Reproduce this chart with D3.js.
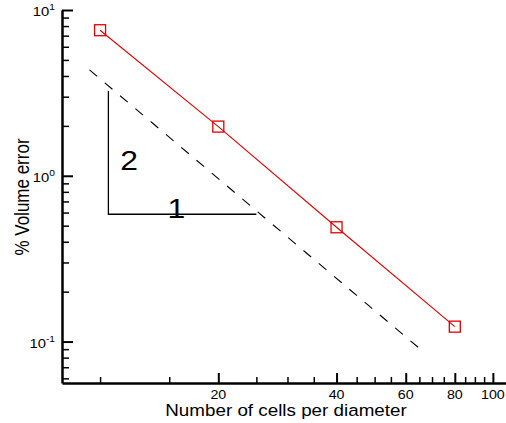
<!DOCTYPE html>
<html>
<head>
<meta charset="utf-8">
<script src="https://cdn.jsdelivr.net/npm/d3@7/dist/d3.min.js"></script>
<style>
  html, body { margin: 0; padding: 0; background: #fff; }
  svg { display: block; }
  text { font-family: "Liberation Sans", Arial, Helvetica, sans-serif; fill: #000; }
</style>
</head>
<body>
<div id="chart"></div>
<script>
// grid resolution vs volume error
const cells = [10, 20, 40, 80];
const volumeError = [7.55, 1.98, 0.489, 0.123];

// second-order reference line (dashed)
const refX = [9.4, 65];
const refY = [4.35, 0.091];

// slope triangle legs
const triX = [10.5, 25];
const triY = [0.586, 3.25];

const xMajorTicks = [20, 40, 60, 80, 100];
const xMinorTicks = [10, 15, 25, 30, 35, 45, 50, 55, 65, 70, 75, 85, 90, 95];
const yMajorTicks = [0.1, 1, 10];
const yMajorExp = ["-1", "0", "1"];
const yMinorTicks = [0.06, 0.07, 0.08, 0.09, 0.2, 0.3, 0.4, 0.5, 0.6, 0.7, 0.8, 0.9,
                     2, 3, 4, 5, 6, 7, 8, 9];

const WIDTH = 506;
const HEIGHT = 423;
const LEFT = 62;
const RIGHT = 506;
const TOP = 10;
const BOTTOM = 383;
const STRETCH = 1.14; // glyphs are a bit wider than tall

const svg = d3.select("#chart")
    .append("svg")
    .attr("width", WIDTH)
    .attr("height", HEIGHT);

const x = d3.scaleLog()
    .domain([8, 108])
    .range([LEFT, RIGHT]);

const y = d3.scaleLog()
    .domain([Math.pow(10, -1.25), 10])
    .range([BOTTOM, TOP]);

// helper for horizontally stretched text
function stretchedText(px, py, size, str, anchor) {
    return svg.append("text")
        .attr("transform", `translate(${px},${py}) scale(${STRETCH},1)`)
        .attr("font-size", size)
        .attr("text-anchor", anchor || "middle")
        .text(str);
}

// X axis: minor then major ticks, pointing inward
const xMinor = svg.append("g")
    .attr("transform", `translate(0,${BOTTOM})`)
    .call(d3.axisBottom(x).tickValues(xMinorTicks).tickSize(-6).tickSizeOuter(0).tickFormat(""));
xMinor.select(".domain").remove();
xMinor.selectAll(".tick line").attr("stroke-width", 1.5);

const xMajor = svg.append("g")
    .attr("transform", `translate(0,${BOTTOM})`)
    .call(d3.axisBottom(x).tickValues(xMajorTicks).tickSize(-10).tickSizeOuter(0).tickFormat(""));
xMajor.select(".domain").attr("stroke-width", 2.5);
xMajor.selectAll(".tick line").attr("stroke-width", 2);

xMajorTicks.forEach(v => {
    stretchedText(x(v), BOTTOM + 15.5, 12.5, String(v));
});

// Y axis
const yMinor = svg.append("g")
    .attr("transform", `translate(${LEFT},0)`)
    .call(d3.axisLeft(y).tickValues(yMinorTicks).tickSize(-7).tickSizeOuter(0).tickFormat(""));
yMinor.select(".domain").remove();
yMinor.selectAll(".tick line").attr("stroke-width", 1.5);

const yMajor = svg.append("g")
    .attr("transform", `translate(${LEFT},0)`)
    .call(d3.axisLeft(y).tickValues(yMajorTicks).tickSize(-11).tickSizeOuter(0).tickFormat(""));
yMajor.select(".domain").attr("stroke-width", 2.5);
yMajor.selectAll(".tick line").attr("stroke-width", 2);

yMajorTicks.forEach((v, i) => {
    const t = svg.append("text")
        .attr("transform", `translate(${LEFT - 7},${y(v) + 6}) scale(${STRETCH},1)`)
        .attr("text-anchor", "end")
        .attr("font-size", 13);
    t.append("tspan").text("10");
    t.append("tspan")
        .attr("font-size", 9)
        .attr("dy", -6)
        .text(yMajorExp[i]);
});

// axis titles
stretchedText(286, 416, 16.5, "Number of cells per diameter");

svg.append("text")
    .attr("transform", `translate(29,197) scale(${STRETCH},1) rotate(-90)`)
    .attr("font-size", 17)
    .attr("text-anchor", "middle")
    .text("% Volume error");

// dashed reference line
svg.append("line")
    .attr("x1", x(refX[0]))
    .attr("y1", y(refY[0]))
    .attr("x2", x(refX[1]))
    .attr("y2", y(refY[1]))
    .attr("stroke", "#000")
    .attr("stroke-width", 1.1)
    .attr("stroke-dasharray", "10,10");

// slope triangle
svg.append("path")
    .attr("d", d3.line()([
        [x(triX[0]), y(triY[1])],
        [x(triX[0]), y(triY[0])],
        [x(triX[1]), y(triY[0])]
    ]))
    .attr("fill", "none")
    .attr("stroke", "#000")
    .attr("stroke-width", 1.3);

stretchedText(x(11.85), y(1.083), 28, "2");
stretchedText(x(15.65), y(0.56), 28, "1");

// error series
const points = cells.map((c, i) => [c, volumeError[i]]);

svg.append("path")
    .datum(points)
    .attr("d", d3.line().x(d => x(d[0])).y(d => y(d[1])))
    .attr("fill", "none")
    .attr("stroke", "#e00000")
    .attr("stroke-width", 1.1);

const SQ = 11;
svg.selectAll("rect.marker")
    .data(points)
    .join("rect")
    .attr("class", "marker")
    .attr("x", d => x(d[0]) - SQ / 2)
    .attr("y", d => y(d[1]) - SQ / 2)
    .attr("width", SQ)
    .attr("height", SQ)
    .attr("fill", "none")
    .attr("stroke", "#e00000")
    .attr("stroke-width", 1.3);
</script>
</body>
</html>
